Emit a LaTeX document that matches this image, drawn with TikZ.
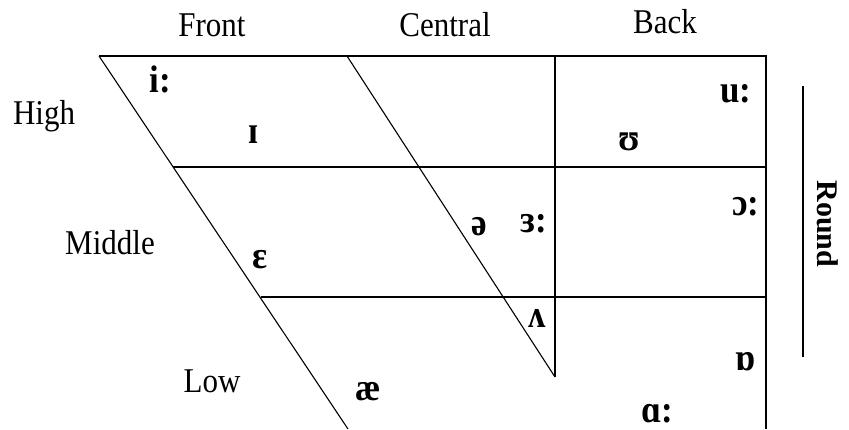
\documentclass[tikz,border=0pt]{standalone}
\usepackage{fontspec}
\setmainfont{Liberation Serif}
\begin{document}
\begin{tikzpicture}[x=1pt,y=-1pt,
  lbl/.style={anchor=base,inner sep=0pt,yscale=1.12,font=\fontsize{31}{36}\selectfont},
  vow/.style={anchor=base,inner sep=0pt,yscale=1.1,font=\fontsize{35}{40}\selectfont\bfseries},
  grid/.style={line width=1.6pt},
  diag/.style={line width=1.1pt}]
\path[use as bounding box,fill=white] (0,0) rectangle (849,429);
% corners
\coordinate (TL) at (99,56);
\coordinate (TC) at (347,56);
\coordinate (TM) at (555,56);
\coordinate (TR) at (766,56);
\coordinate (L1) at (173,167);
\coordinate (R1) at (766,167);
\coordinate (L2) at (261,297);
\coordinate (R2) at (766,297);
\coordinate (BL) at (348,429);
\coordinate (BR) at (766,429);
\coordinate (MB) at (555,377);
\coordinate (RT) at (803,86);
\coordinate (RB) at (803,357);
% grid
\draw[grid] (TL) -- (TR) -- (BR);
\draw[grid] (L1) -- (R1);
\draw[grid] (L2) -- (R2);
\draw[grid] (TM) -- (MB);
\draw[diag] (TL) -- (BL);
\draw[diag] (TC) -- (MB);
\draw[grid] (RT) -- (RB);
% labels
\node[lbl] (front) at (212,36) {Front};
\node[lbl] (central) at (445,36) {Central};
\node[lbl] (back) at (665,33) {Back};
\node[lbl] (high) at (44,124) {High};
\node[lbl] (middle) at (110,254) {Middle};
\node[lbl] (low) at (212,392) {Low};
\node[inner sep=0pt,rotate=-90,font=\fontsize{30}{34}\selectfont\bfseries] (round) at (828,224) {Round};
% vowels
\node[vow] (ii) at (160,92) {i:};
\node[vow] (ih) at (254,143) {ɪ};
\node[vow] (uu) at (736,102) {u:};
\node[vow] (uh) at (629,150) {ʊ};
\node[vow] (schwa) at (479,235) {ə};
\node[vow] (er) at (534,232) {ɜ:};
\node[vow] (oo) at (746,215) {ɔ:};
\node[vow] (eh) at (260,268) {ɛ};
\node[vow] (uhh) at (537,327) {ʌ};
\node[vow] (oh) at (746,370) {ɒ};
\node[vow] (aa) at (657,422) {ɑ:};
\node[vow] (ae) at (368,400) {æ};
\end{tikzpicture}
\end{document}
